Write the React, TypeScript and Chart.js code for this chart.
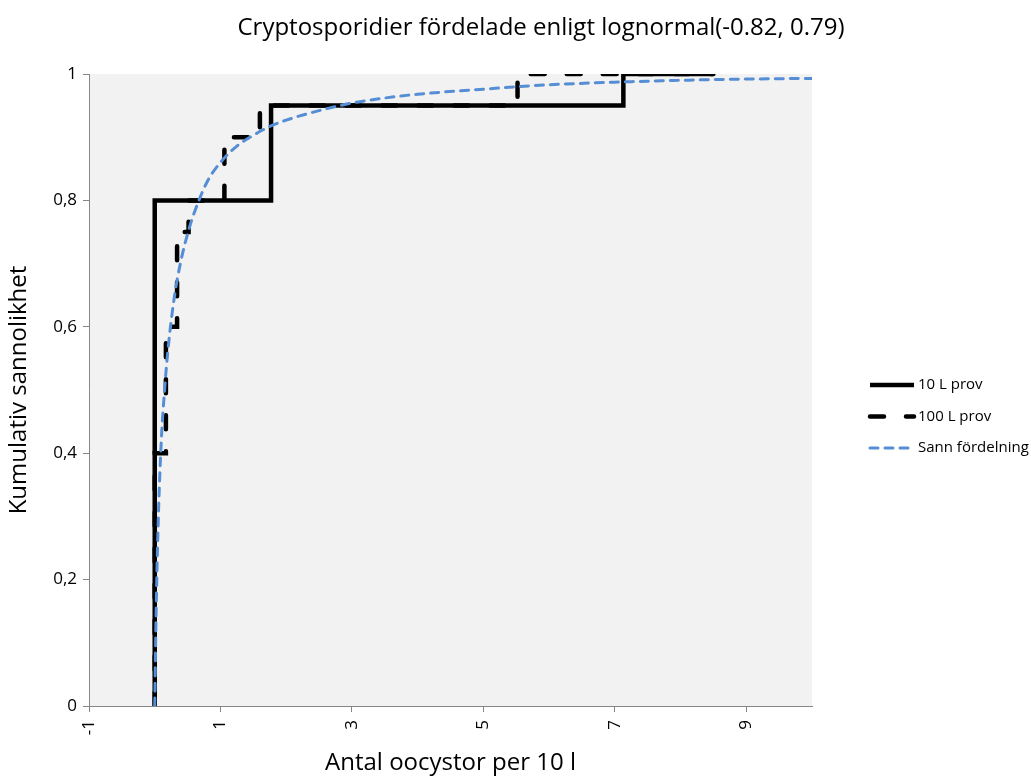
import { useEffect, useRef } from 'react';
import { Chart, registerables } from 'chart.js';

Chart.register(...registerables);

const TITLE = 'Cryptosporidier fördelade enligt lognormal(-0.82, 0.79)';
const X_TITLE = 'Antal oocystor per 10 l';
const Y_TITLE = 'Kumulativ sannolikhet';

const X_TICKS = [-1, 1, 3, 5, 7, 9];
const Y_TICKS = [0, 0.2, 0.4, 0.6, 0.8, 1];

const SERIES_NAMES = ['10 L prov', '100 L prov', 'Sann fördelning'];

// Empirical cumulative distribution, 10 L samples (step corners)
const TEN_L_X = [0, 0, 1.77, 7.13, 8.5];
const TEN_L_Y = [0, 0.8, 0.95, 1, 1];

// Empirical cumulative distribution, 100 L samples (step corners)
const HUNDRED_L_X = [0, 0, 0.17, 0.34, 0.515, 1.06, 1.6, 5.52, 8.5];
const HUNDRED_L_Y = [0, 0.4, 0.6, 0.75, 0.8, 0.9, 0.95, 1, 1];

// True lognormal cumulative distribution
const TRUE_X = [0, 0.005, 0.01, 0.02, 0.05, 0.1, 0.15, 0.2, 0.3, 0.4, 0.5, 0.6, 0.8, 1, 1.25, 1.5, 1.75, 2, 2.5, 3, 3.5, 4, 5, 6, 7, 8, 9, 10];
const TRUE_Y = [0, 0.03, 0.07, 0.14, 0.28, 0.42, 0.5, 0.562, 0.648, 0.705, 0.747, 0.78, 0.83, 0.86, 0.886, 0.903, 0.917, 0.927, 0.942, 0.954, 0.962, 0.968, 0.976, 0.983, 0.987, 0.99, 0.992, 0.993];

const FONT = '"Open Sans", "Liberation Sans", sans-serif';
const BLUE = '#558ed5';
const AXIS_GREY = '#868686';

const toPoints = (xs: number[], ys: number[]) => xs.map((x, i) => ({ x, y: ys[i] }));

const plotBackground = {
  id: 'plotBackground',
  beforeDraw(chart: any) {
    const { ctx, chartArea: a } = chart;
    ctx.save();
    ctx.fillStyle = '#f2f2f2';
    ctx.fillRect(a.left, a.top, a.right - a.left, a.bottom - a.top);
    ctx.restore();
  },
};

const chartTitle = {
  id: 'chartTitle',
  afterDraw(chart: any) {
    const { ctx } = chart;
    ctx.save();
    ctx.font = `24px ${FONT}`;
    ctx.fillStyle = '#000';
    ctx.textAlign = 'center';
    ctx.textBaseline = 'middle';
    ctx.fillText(TITLE, 541, 28);
    ctx.restore();
  },
};

const sideLegend = {
  id: 'sideLegend',
  afterDraw(chart: any) {
    const { ctx, chartArea: a } = chart;
    const x0 = a.right + 58;
    const x1 = a.right + 102;
    ctx.save();
    chart.data.datasets.forEach((ds: any, i: number) => {
      const y = 385 + i * 31.5;
      ctx.beginPath();
      ctx.strokeStyle = ds.borderColor;
      ctx.lineWidth = ds.borderWidth;
      ctx.lineCap = ds.borderCapStyle || 'butt';
      ctx.setLineDash(ds.borderDash || []);
      ctx.moveTo(x0, y);
      ctx.lineTo(x1, y);
      ctx.stroke();
      ctx.setLineDash([]);
      ctx.font = `15px ${FONT}`;
      ctx.fillStyle = '#000';
      ctx.textAlign = 'left';
      ctx.textBaseline = 'middle';
      ctx.fillText(ds.label, x1 + 4, y);
    });
    ctx.restore();
  },
};

export default function App() {
  const canvasRef = useRef<HTMLCanvasElement | null>(null);

  useEffect(() => {
    const canvas = canvasRef.current;
    if (!canvas) return;
    const chart = new Chart(canvas, {
      type: 'line',
      data: {
        datasets: [
          {
            label: SERIES_NAMES[0],
            data: toPoints(TEN_L_X, TEN_L_Y),
            borderColor: '#000',
            borderWidth: 4.5,
            borderJoinStyle: 'miter',
            stepped: 'before',
            pointRadius: 0,
            fill: false,
            order: 3,
          },
          {
            label: SERIES_NAMES[1],
            data: toPoints(HUNDRED_L_X, HUNDRED_L_Y),
            borderColor: '#000',
            borderWidth: 4.5,
            borderDash: [14, 22],
            borderCapStyle: 'round',
            stepped: 'before',
            pointRadius: 0,
            fill: false,
            order: 2,
          },
          {
            label: SERIES_NAMES[2],
            data: toPoints(TRUE_X, TRUE_Y),
            borderColor: BLUE,
            borderWidth: 3,
            borderDash: [8, 7],
            borderCapStyle: 'round',
            cubicInterpolationMode: 'monotone',
            pointRadius: 0,
            fill: false,
            order: 1,
          },
        ],
      },
      options: {
        animation: false,
        responsive: false,
        layout: { padding: { left: 0, top: 74, right: 219, bottom: 0 } },
        plugins: {
          legend: { display: false },
          title: { display: false },
          tooltip: { enabled: false },
        },
        scales: {
          x: {
            type: 'linear',
            min: -1,
            max: 10,
            afterBuildTicks: (s: any) => {
              s.ticks = X_TICKS.map((v) => ({ value: v }));
            },
            afterFit: (s: any) => {
              s.height = 70;
            },
            border: { color: AXIS_GREY, width: 1 },
            grid: { drawOnChartArea: false, drawTicks: true, tickLength: 6, color: AXIS_GREY },
            ticks: {
              autoSkip: false,
              minRotation: 90,
              maxRotation: 90,
              padding: 8,
              color: '#000',
              font: { family: FONT, size: 17 },
            },
            title: {
              display: true,
              text: X_TITLE,
              color: '#000',
              font: { family: FONT, size: 24 },
              padding: { top: 0, bottom: -2 },
            },
          },
          y: {
            type: 'linear',
            min: 0,
            max: 1,
            afterBuildTicks: (s: any) => {
              s.ticks = Y_TICKS.map((v) => ({ value: v }));
            },
            afterFit: (s: any) => {
              s.width = 89;
            },
            border: { color: AXIS_GREY, width: 1 },
            grid: { drawOnChartArea: false, drawTicks: true, tickLength: 6, color: AXIS_GREY },
            ticks: {
              padding: 6,
              color: '#000',
              font: { family: FONT, size: 17 },
              callback: (v: any) => String(v).replace('.', ','),
            },
            title: {
              display: true,
              text: Y_TITLE,
              color: '#000',
              font: { family: FONT, size: 24 },
              padding: { top: 5, bottom: 0 },
            },
          },
        },
      },
      plugins: [plotBackground, chartTitle, sideLegend],
    } as any);
    return () => chart.destroy();
  }, []);

  return (
    <div style={{ position: 'fixed', left: 0, top: 0, width: 1031, height: 776, background: '#fff' }}>
      <canvas ref={canvasRef} width={1031} height={776} style={{ display: 'block' }} />
    </div>
  );
}
